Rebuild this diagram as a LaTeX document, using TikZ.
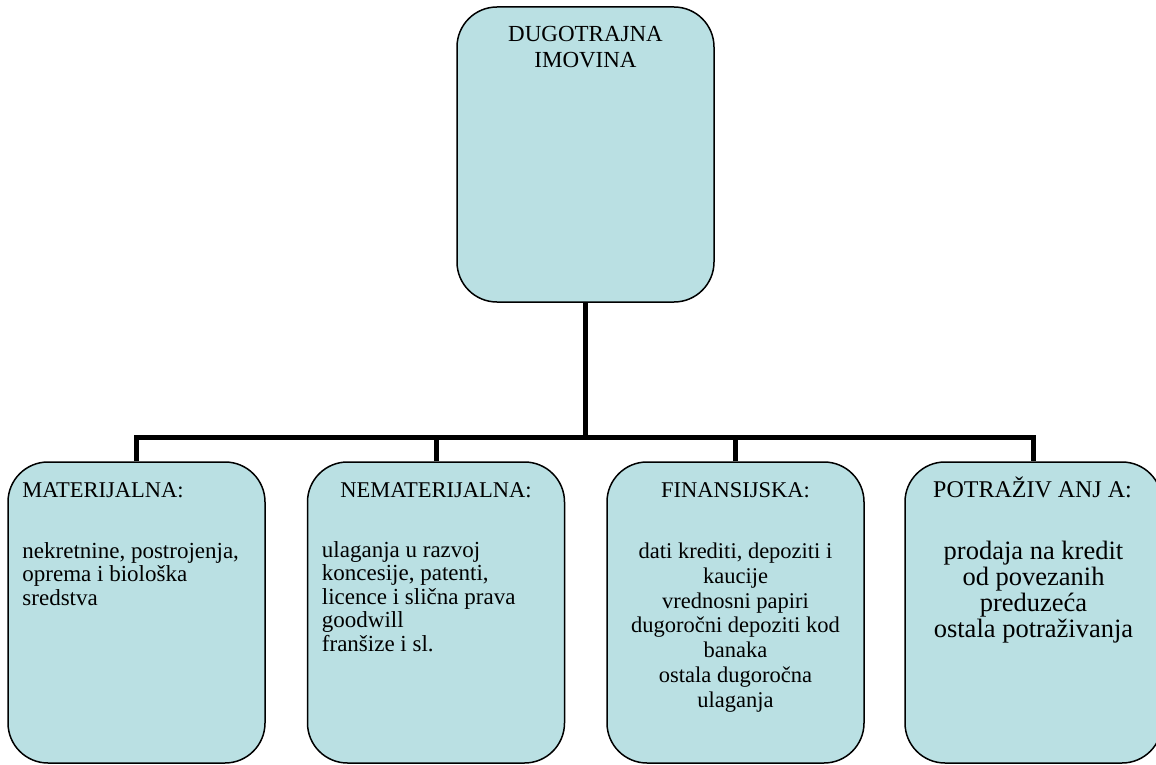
\documentclass[tikz,border=0pt]{standalone}
\usepackage{fontspec}
\setmainfont{Liberation Serif}
\usetikzlibrary{positioning}
\definecolor{boxfill}{RGB}{186,224,227}
\tikzset{asset/.style={
		% The shape:
		rectangle,
		rounded corners=40pt,
		% The size:
		minimum width=257pt,
		minimum height=301pt,
		% The border:
		line width=1.5pt,
		draw=black,
		fill=boxfill,
}}
\tikzset{head/.style={inner sep=0pt, font=\fontsize{22.5}{26}\selectfont}}
\tikzset{body/.style={inner sep=0pt, font=\fontsize{23}{23.5}\selectfont}}
\tikzset{bus/.style={line width=5pt, black}}

\begin{document}
\begin{tikzpicture}[
	x=1pt, y=-1pt,
	text=black
	]
	\useasboundingbox (0,0) rectangle (1156,765);
	
	%% top box
	\node (imov)[asset, minimum height=295pt] at (585.5,154.5) { };
	\node (imovHead)[head, font=\fontsize{23}{26}\selectfont, align=center, anchor=base] at ([yshift=-61pt]imov.north) {DUGOTRAJNA\\IMOVINA};
	
	%% bottom boxes
	\node (mat)[asset] at (136.5,612.5) { };
	\node (nem)[asset] at (436,612.5) { };
	\node (fin)[asset] at (735.5,612.5) { };
	\node (potr)[asset] at (1033.5,612.5) { };
	
	%% texts (base = last line)
	\node (matHead)[head, anchor=base west] at ([xshift=15pt,yshift=-36pt]mat.north west) {MATERIJALNA:};
	\node (matBody)[body, align=left, anchor=base west] at ([xshift=15pt,yshift=-144pt]mat.north west) {nekretnine, postrojenja,\\oprema i biološka\\sredstva};
	
	\node (nemHead)[head, anchor=base] at ([yshift=-36pt]nem.north) {NEMATERIJALNA:};
	\node (nemBody)[body, align=left, anchor=base west] at ([xshift=15pt,yshift=-190pt]nem.north west) {ulaganja u razvoj\\koncesije, patenti,\\licence i slična prava\\goodwill\\franšize i sl.};
	
	\node (finHead)[head, anchor=base] at ([yshift=-36pt]fin.north) {FINANSIJSKA:};
	\node (finBody)[body, font=\fontsize{22.5}{24.8}\selectfont, align=center, anchor=base] at ([yshift=-246pt]fin.north) {dati krediti, depoziti i\\kaucije\\vrednosni papiri\\dugoročni depoziti kod\\banaka\\ostala dugoročna\\ulaganja};
	
	\node (potrHead)[head, font=\fontsize{24}{26}\selectfont, anchor=base] at ([xshift=-1pt,yshift=-36pt]potr.north) {POTRAŽIV\kern6pt ANJ\kern6pt A:};
	\node (potrBody)[body, font=\fontsize{26.5}{26}\selectfont, align=center, anchor=base] at ([yshift=-176pt]potr.north) {prodaja na kredit\\od povezanih\\preduzeća\\ostala potraživanja};
	
	%% connectors
	\coordinate (bus) at (585.5,437);
	\draw[bus] (imov.south) -- (bus);
	\draw[bus] (mat.north) -- (mat.north |- bus) -- (potr.north |- bus) -- (potr.north);
	\draw[bus] (nem.north) -- (nem.north |- bus);
	\draw[bus] (fin.north) -- (fin.north |- bus);
	
\end{tikzpicture}
\end{document}
